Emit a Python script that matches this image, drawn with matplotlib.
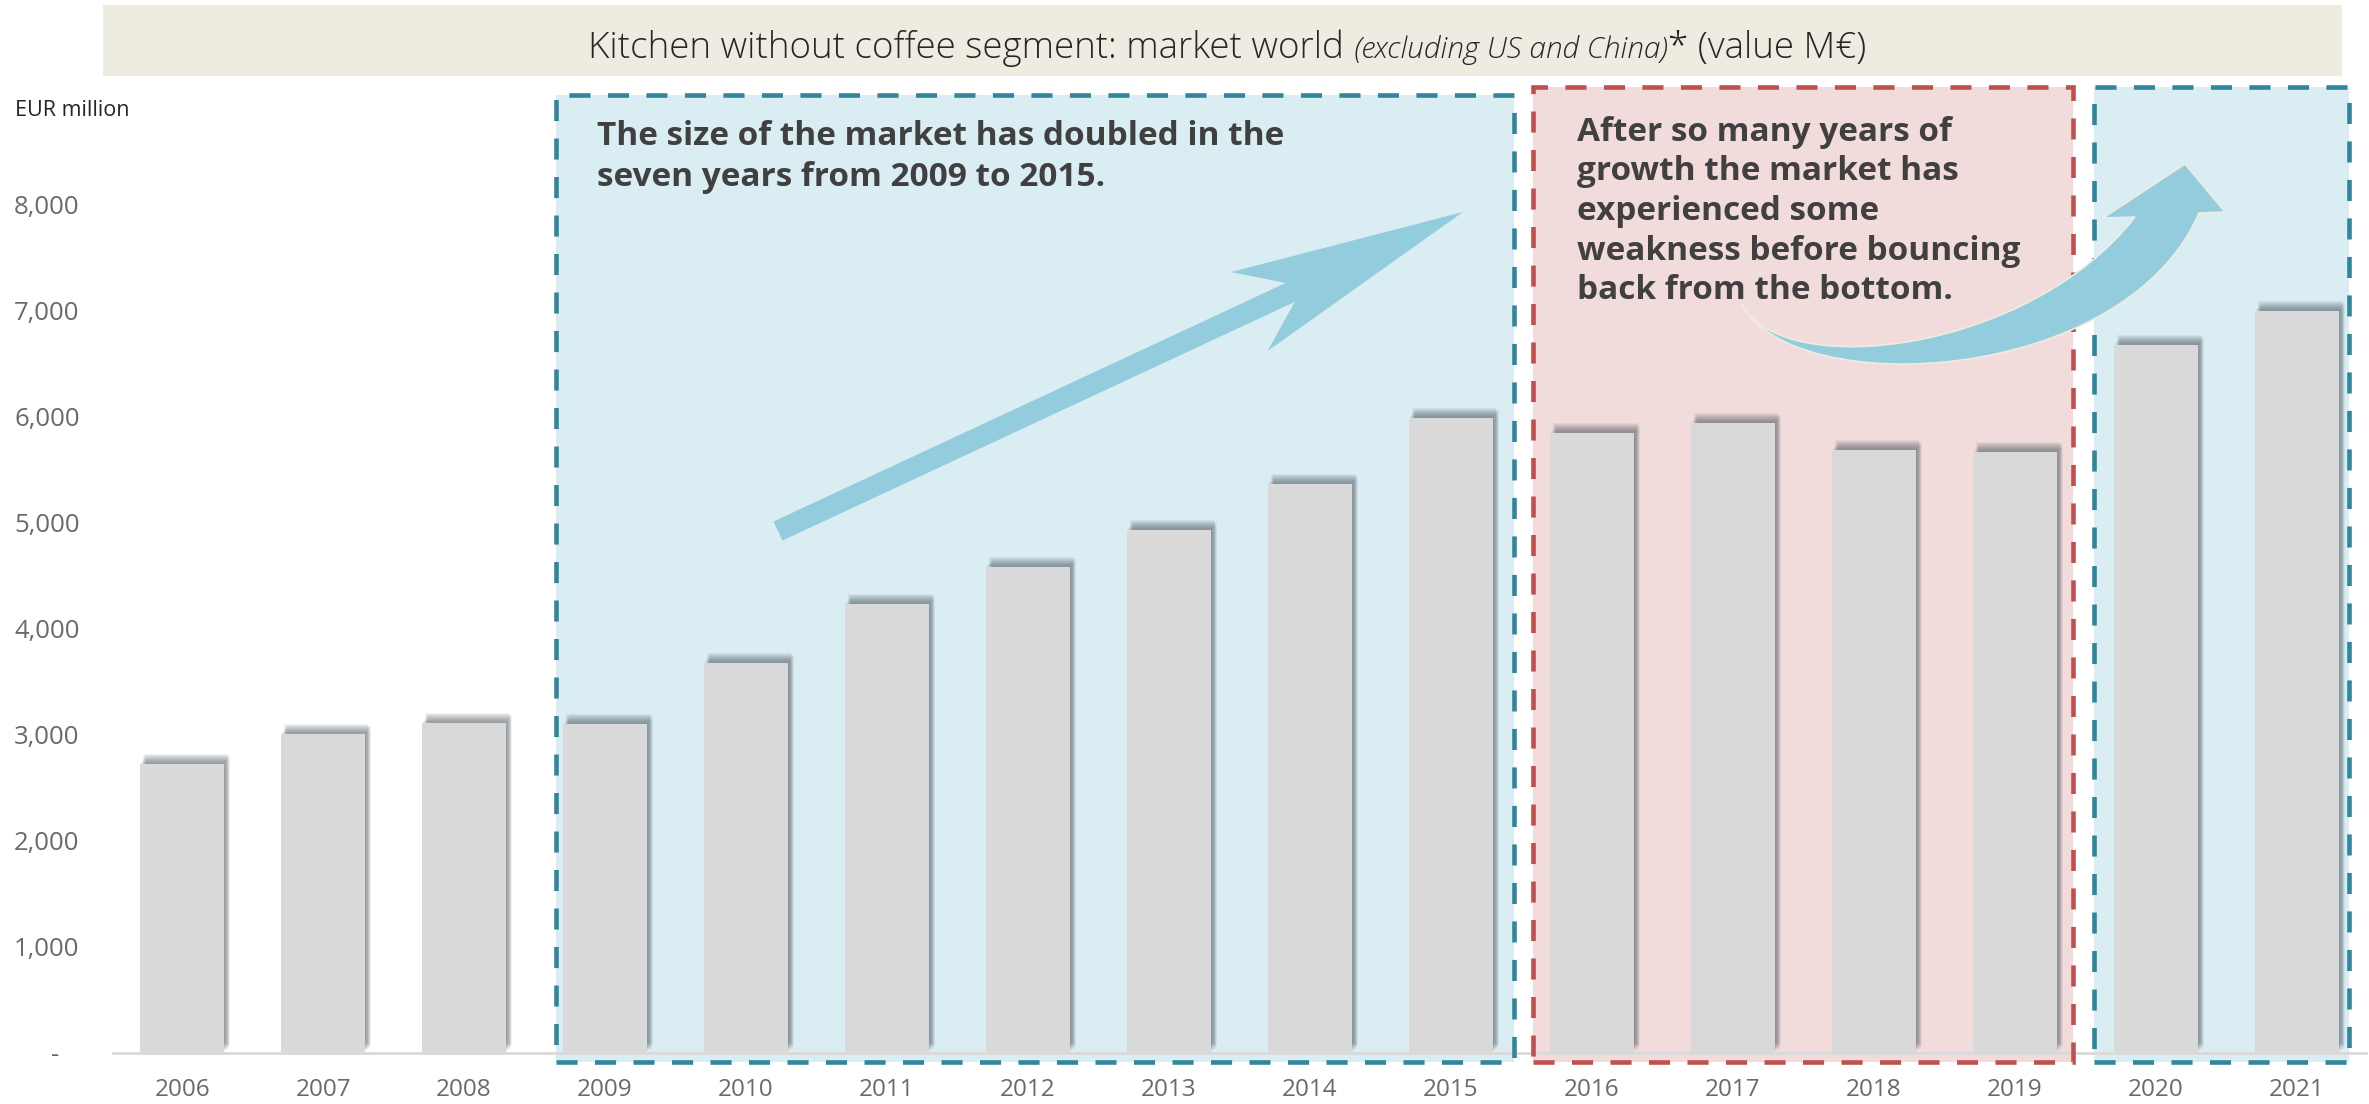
import numpy as np
import matplotlib.pyplot as plt
from matplotlib.patches import Rectangle, Polygon, PathPatch
from matplotlib.path import Path
from matplotlib.transforms import IdentityTransform, ScaledTranslation

# --- data ---
years = ["2006", "2007", "2008", "2009", "2010", "2011", "2012", "2013",
         "2014", "2015", "2016", "2017", "2018", "2019", "2020", "2021"]
values = [2720, 3010, 3110, 3100, 3680, 4230, 4580, 4930,
          5360, 5980, 5840, 5940, 5680, 5660, 6670, 6990]
y_ticks = [0, 1000, 2000, 3000, 4000, 5000, 6000, 7000, 8000]
y_tick_labels = ["-   ", "1,000", "2,000", "3,000", "4,000", "5,000", "6,000", "7,000", "8,000"]

title_parts = [
    ("Kitchen without coffee segment: market world ", "normal", 26.5),
    ("(excluding US and China)", "italic", 21.5),
    ("* (value M\u20ac)", "normal", 26.5),
]
note_growth = ["The size of the market has doubled in the",
               "seven years from 2009 to 2015."]
note_dip = ["After so many years of", "growth the market has", "experienced some",
            "weakness before bouncing", "back from the bottom."]

W, H = 2369, 1104
BAR_GREY = "#D9D9D9"
BLUE_FILL, BLUE_EDGE = "#DAEDF3", "#31859C"
RED_FILL, RED_EDGE = "#F2DCDB", "#C0504D"
ARROW = "#93CDDD"
TEXT = "#404040"
TICK = "#6a6a6a"

fig = plt.figure(figsize=(W / 100, H / 100), dpi=100)
# axes placed in pixels: left 113, right 2366, baseline at y=1053 from top
ax_l, ax_r, ax_b, ax_t = 113, 2366, 1053, 98
ax = fig.add_axes([ax_l / W, (H - ax_b) / H, (ax_r - ax_l) / W, (ax_b - ax_t) / H])
ax.set_xlim(-0.49, 15.49)
ax.set_ylim(0, 9000)
ax.patch.set_alpha(0)

x = np.arange(len(years))
bar_w = 0.6


def px_tr(dx, dy):
    # offset in pixels (dy positive = up)
    return ax.transData + ScaledTranslation(dx / 100, dy / 100, fig.dpi_scale_trans)


# --- highlight boxes (data x-range, y-range) ---
boxes = [
    (2.65, 9.45, -85, 9030, BLUE_FILL, BLUE_EDGE),
    (9.58, 13.41, -85, 9100, RED_FILL, RED_EDGE),
    (13.56, 15.37, -85, 9100, BLUE_FILL, BLUE_EDGE),
]
for x0, x1, y0, y1, fc, ec in boxes:
    ax.add_patch(Rectangle((x0, y0), x1 - x0, y1 - y0, facecolor=fc, edgecolor="none",
                           zorder=0.5, clip_on=False))
    ax.add_patch(Rectangle((x0, y0), x1 - x0, y1 - y0, facecolor="none", edgecolor=ec,
                           lw=3.3, linestyle=(0, (4.6, 3.8)), zorder=3, clip_on=False))

# --- blurred drop shadow for bars (offset up/right) ---
for dx, dy in [(1, 2), (2, 3), (3, 5), (4, 6), (5, 7), (6, 8), (4, 9), (5, 4), (3, 10)]:
    bars_sh = ax.bar(x, values, width=bar_w, color="#3e4a52", alpha=0.075, zorder=1.5)
    for p in bars_sh.patches:
        p.set_transform(px_tr(dx, dy))
ax.bar(x, values, width=bar_w, color=BAR_GREY, zorder=2)

# --- axes styling ---
for s in ["left", "right", "top"]:
    ax.spines[s].set_visible(False)
ax.spines["bottom"].set_color("#D9D9D9")
ax.spines["bottom"].set_linewidth(2)
ax.spines["bottom"].set_zorder(2.5)
ax.set_xticks(x, years)
ax.set_yticks(y_ticks, y_tick_labels)
ax.tick_params(axis="x", length=0, pad=18, labelsize=17.5, labelcolor=TICK)
ax.tick_params(axis="y", length=0, pad=24, labelsize=18.5, labelcolor=TICK)
for lbl in ax.get_xticklabels() + ax.get_yticklabels():
    lbl.set_family("Open Sans")

# --- title banner ---
fig.patches.append(Rectangle((103, H - 76), 2342 - 103, 71, facecolor="#EEEBE0",
                             edgecolor="none", transform=IdentityTransform(), figure=fig))
title_texts = []
for s, style, size in title_parts:
    t = fig.text(0, H - 58, s, fontsize=size, style=style, family="Open Sans",
                 weight="light", color="#262626", va="baseline", ha="left",
                 transform=IdentityTransform())
    title_texts.append(t)
fig.canvas.draw()
r = fig.canvas.get_renderer()
widths = [t.get_window_extent(r).width for t in title_texts]
cx = 1227 - sum(widths) / 2
for t, w in zip(title_texts, widths):
    t.set_position((cx, H - 58))
    cx += w

fig.text(15, H - 110, "EUR million", fontsize=15.5, family="Open Sans", color="#262626",
         va="center", ha="left", transform=IdentityTransform())

# --- notes, one line at a time (baselines in pixels from top) ---
for i, line in enumerate(note_growth):
    fig.text(597, H - (145 + 41 * i), line, fontsize=24, family="Open Sans", weight="bold",
             color=TEXT, va="baseline", ha="left", transform=IdentityTransform(), zorder=5)
for i, line in enumerate(note_dip):
    fig.text(1577, H - (141 + 39.5 * i), line, fontsize=24, family="Open Sans", weight="bold",
             color=TEXT, va="baseline", ha="left", transform=IdentityTransform(), zorder=5)

# --- straight arrow (pixel coords, y from top) ---
tail = np.array([778.0, 531.0])
tip = np.array([1463.0, 212.0])
d = (tip - tail) / np.linalg.norm(tip - tail)
n = np.array([d[1], -d[0]])
L = np.linalg.norm(tip - tail)
local = [(0, -10.5), (565, -10.5), (520, -43.5), (L, 0), (520, 43.5), (565, 10.5), (0, 10.5)]
pts = [tail + u * d + v * n for u, v in local]
pts = [(p[0], H - p[1]) for p in pts]
fig.patches.append(Polygon(pts, closed=True, facecolor=ARROW, edgecolor="none",
                           transform=IdentityTransform(), figure=fig, zorder=1))

# --- curved arrow ---
P = [(1742, 305), (1785, 382), (2030, 352), (2135, 217)]
Q = [(1742, 305), (1795, 402), (2125, 385), (2199, 213)]
head = [(2103, 218), (2185, 164), (2225, 212)]
verts = [P[0], P[1], P[2], P[3]] + head + [Q[3], Q[2], Q[1], Q[0], Q[0]]
codes = ([Path.MOVETO, Path.CURVE4, Path.CURVE4, Path.CURVE4]
         + [Path.LINETO] * 3 + [Path.LINETO, Path.CURVE4, Path.CURVE4, Path.CURVE4, Path.CLOSEPOLY])
verts = [(vx, H - vy) for vx, vy in verts]
fig.patches.append(PathPatch(Path(verts, codes), facecolor=ARROW, edgecolor="#EEECE1",
                             lw=1.2, transform=IdentityTransform(), figure=fig, zorder=1))

fig.savefig("out.png", dpi=100)
